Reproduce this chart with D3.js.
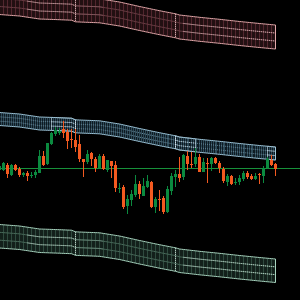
<!DOCTYPE html>
<html>
<head>
<meta charset="utf-8">
<script src="https://cdn.jsdelivr.net/npm/d3@7"></script>
<style>
html, body { margin: 0; padding: 0; background: #000; }
svg { display: block; }
</style>
</head>
<body>
<div id="chart"></div>
<script>
var width = 300, height = 300;

// candles in time order
var opens = [1.0930, 1.0930, 1.0935, 1.0925, 1.0935, 1.0931, 1.0925, 1.0927, 1.09243, 1.0925,
  1.09273, 1.0944, 1.0936, 1.0956, 1.0966, 1.09675, 1.0971, 1.09683, 1.0961, 1.0960,
  1.0956, 1.0941, 1.09383, 1.09473, 1.0941, 1.09317, 1.09443, 1.09297, 1.0939, 1.0935,
  1.09113, 1.09133, 1.08943, 1.0900, 1.0905, 1.0916, 1.09043, 1.0913, 1.09183, 1.08933,
  1.0901, 1.09017, 1.08877, 1.0909, 1.09233, 1.0926, 1.09233, 1.0944, 1.0936, 1.09357,
  1.09433, 1.09283, 1.09367, 1.09357, 1.09417, 1.09373, 1.09307, 1.09183, 1.09243, 1.0917,
  1.09177, 1.0921, 1.09273, 1.0924, 1.0921, 1.0926, 1.09243, 1.09317, 1.0940, 1.0936];
var highs = [1.0935, 1.0938, 1.0937, 1.0936, 1.0936, 1.0933, 1.09283, 1.0929, 1.0928, 1.0930,
  1.09497, 1.09487, 1.09575, 1.0968, 1.09733, 1.0972, 1.09793, 1.0971, 1.0971, 1.0971,
  1.0965, 1.0941, 1.0950, 1.09477, 1.09427, 1.0946, 1.09457, 1.0940, 1.0939, 1.0939,
  1.0917, 1.0915, 1.0905, 1.0910, 1.0925, 1.0919, 1.09217, 1.0925, 1.0919, 1.09033,
  1.0910, 1.09043, 1.0914, 1.09267, 1.0930, 1.09427, 1.0946, 1.09493, 1.09483, 1.09517,
  1.09457, 1.09417, 1.09417, 1.09433, 1.09433, 1.09393, 1.09333, 1.09257, 1.0925, 1.09217,
  1.0925, 1.0929, 1.0929, 1.09257, 1.09267, 1.09273, 1.0934, 1.09427, 1.09453, 1.09367];
var lows = [1.0929, 1.0929, 1.09223, 1.09237, 1.09293, 1.09233, 1.09227, 1.09193, 1.09223, 1.09223,
  1.0927, 1.0934, 1.0935, 1.09555, 1.09643, 1.09655, 1.09617, 1.0951, 1.09523, 1.09483,
  1.09383, 1.09233, 1.09357, 1.09343, 1.09283, 1.0931, 1.09297, 1.09283, 1.09223, 1.09077,
  1.09067, 1.0891, 1.08857, 1.08943, 1.09033, 1.09007, 1.09037, 1.0912, 1.08917, 1.08867,
  1.0889, 1.08857, 1.0887, 1.0905, 1.09133, 1.09183, 1.0920, 1.0930, 1.09317, 1.09333,
  1.09275, 1.09275, 1.09173, 1.0929, 1.09357, 1.09273, 1.09167, 1.09143, 1.0915, 1.0915,
  1.0915, 1.0919, 1.0921, 1.0920, 1.0920, 1.0916, 1.09173, 1.0931, 1.0934, 1.0924];
var closes = [1.0934, 1.09367, 1.09257, 1.0935, 1.09303, 1.0925, 1.0927, 1.09243, 1.0925, 1.0928,
  1.0944, 1.0935, 1.0957, 1.09673, 1.0970, 1.0969, 1.0967, 1.0959, 1.09603, 1.09527,
  1.09407, 1.09377, 1.09457, 1.0941, 1.09317, 1.09443, 1.0931, 1.0940, 1.09343, 1.09117,
  1.0912, 1.08933, 1.0901, 1.09057, 1.09157, 1.09057, 1.09143, 1.0919, 1.08933, 1.09007,
  1.09003, 1.08877, 1.0911, 1.0924, 1.0926, 1.09223, 1.0945, 1.09357, 1.0935, 1.09433,
  1.09283, 1.09383, 1.0936, 1.09417, 1.09367, 1.09317, 1.09193, 1.09243, 1.0916, 1.09177,
  1.09217, 1.09267, 1.09227, 1.0921, 1.09243, 1.0925, 1.09317, 1.0941, 1.0935, 1.0931];

var refLevel = 1.0932;

// band base line (top of middle band) at candle index
var bandIndex = [-1, 0, 5, 10, 15, 18, 19, 20, 25, 30, 35, 40, 44, 45, 50, 55, 60, 65, 69];
var bandBase = [1.0988, 1.09875, 1.0986, 1.0983, 1.09823, 1.09818, 1.09802, 1.0980, 1.09792, 1.0976,
  1.09715, 1.09673, 1.09642, 1.0963, 1.09607, 1.09587, 1.09565, 1.09545, 1.0953];

// band offsets from base (price)
var upperBand = [0.0122, 0.0098];
var middleBand = [0, -0.0013];
var lowerBand = [-0.0112, -0.01355];

var markIndex = [19, 44];
var outerDots = [[7, 19, 1], [19, 26, 0], [46, 69, 1]];
var middleBoxes = [[13, 19], [44, 49], [67, 69]];

var svg = d3.select("#chart")
    .append("svg")
    .attr("width", width)
    .attr("height", height)
    .style("background", "#000");

var x = d3.scaleLinear().domain([0, 69]).range([-0.5, 275.5]);
var y = d3.scaleLinear().domain([1.08, 1.11]).range([300, 0]);
var base = d3.scaleLinear().domain(bandIndex).range(bandBase);

function rowLine(off0, off1, f) {
    return d3.line()
        .x(function(i) { return x(i); })
        .y(function(i) { return y(base(i) + off0 + (off1 - off0) * f); });
}

function samples(a, b) {
    var s = d3.range(a, b, 0.5);
    s.push(b);
    return s;
}

function bandArea() {
    return d3.area()
        .x(function(i) { return x(i); });
}

function drawBand(off, c, middle) {
    var g = svg.append("g");
    var pts = samples(-1, 69);
    var area = d3.area()
        .x(function(i) { return x(i); })
        .y0(function(i) { return y(base(i) + off[0]); })
        .y1(function(i) { return y(base(i) + off[1]); });

    g.append("path")
        .datum(pts)
        .attr("d", area)
        .attr("fill", c.fill);

    // vertical grid
    g.selectAll(".v")
        .data(d3.range(-1, 69, middle ? 0.5 : 1))
        .enter()
        .append("line")
        .attr("x1", function(i) { return Math.round(x(i)) - 0.5; })
        .attr("x2", function(i) { return Math.round(x(i)) - 0.5; })
        .attr("y1", function(i) { return y(base(i) + off[0]); })
        .attr("y2", function(i) { return y(base(i) + off[1]); })
        .attr("stroke", c.grid)
        .attr("stroke-width", 1);

    // rows
    [1 / 3, 2 / 3].forEach(function(f) {
        g.append("path")
            .datum(pts)
            .attr("d", rowLine(off[0], off[1], f))
            .attr("fill", "none")
            .attr("stroke", c.row)
            .attr("stroke-dasharray", middle ? "1,1" : null)
            .attr("stroke-width", 1);
    });

    if (!middle) {
        outerDots.forEach(function(r) {
            [1 / 3, 2 / 3].forEach(function(f) {
                g.append("path")
                    .datum(samples(r[0], r[1]))
                    .attr("d", rowLine(off[0], off[1], f))
                    .attr("fill", "none")
                    .attr("stroke", r[2] ? c.dot : c.dim)
                    .attr("stroke-dasharray", "1,1")
                    .attr("stroke-width", 1);
            });
        });
    } else {
        middleBoxes.forEach(function(r) {
            var s = samples(r[0], r[1]);
            [1 / 3, 2 / 3].forEach(function(f) {
                g.append("path")
                    .datum(s)
                    .attr("d", rowLine(off[0], off[1], f))
                    .attr("fill", "none")
                    .attr("stroke", c.dot)
                    .attr("stroke-dasharray", "1,1")
                    .attr("stroke-width", 1);
            });
            g.append("path")
                .datum(s)
                .attr("d", area)
                .attr("fill", "none")
                .attr("stroke", c.dot)
                .attr("stroke-opacity", 0.5)
                .attr("stroke-width", 1);
        });
    }

    // dotted markers
    markIndex.forEach(function(i) {
        g.append("line")
            .attr("x1", Math.round(x(i)) - 0.5)
            .attr("x2", Math.round(x(i)) - 0.5)
            .attr("y1", y(base(i) + off[0]))
            .attr("y2", y(base(i) + off[1]))
            .attr("stroke", c.dot)
            .attr("stroke-dasharray", "1,1")
            .attr("stroke-width", 1);
    });

    // edge
    g.append("path")
        .datum(pts)
        .attr("d", area)
        .attr("fill", "none")
        .attr("stroke", c.edge)
        .attr("stroke-width", 1);
}

drawBand(upperBand, { fill: "#221012", grid: "#52262e", row: "#6a3d44", dot: "#e8c8c8", dim: "#9a7076", edge: "#e2a8aa" }, false);
drawBand(middleBand, { fill: "#0e1a22", grid: "#2e4a58", row: "#6d90a2", dot: "#d8ecf8", edge: "#9ec6da" }, true);
drawBand(lowerBand, { fill: "#13201b", grid: "#2f4a3e", row: "#486a5a", dot: "#d6eae0", dim: "#84a496", edge: "#a8d4bf" }, false);

// reference line
svg.append("line")
    .attr("x1", 0)
    .attr("x2", width)
    .attr("y1", Math.round(y(refLevel)) + 0.5)
    .attr("y2", Math.round(y(refLevel)) + 0.5)
    .attr("stroke", "#17913a")
    .attr("stroke-width", 1);

var candles = opens.map(function(o, i) {
    return { i: i, o: o, h: highs[i], l: lows[i], c: closes[i] };
});

function col(d) { return d.c >= d.o ? "#0b8a3f" : "#f45a20"; }

svg.selectAll(".wick")
    .data(candles)
    .enter()
    .append("rect")
    .attr("x", function(d) { return x(d.i) - 0.5; })
    .attr("y", function(d) { return Math.round(y(d.h)); })
    .attr("width", 1)
    .attr("height", function(d) { return Math.max(1, Math.round(y(d.l)) - Math.round(y(d.h))); })
    .attr("fill", col);

svg.selectAll(".body")
    .data(candles)
    .enter()
    .append("rect")
    .attr("x", function(d) { return x(d.i) - 1.5; })
    .attr("y", function(d) { return Math.round(y(Math.max(d.o, d.c))); })
    .attr("width", 3)
    .attr("height", function(d) { return Math.max(1, Math.round(y(Math.min(d.o, d.c))) - Math.round(y(Math.max(d.o, d.c)))); })
    .attr("fill", col);
</script>
</body>
</html>
